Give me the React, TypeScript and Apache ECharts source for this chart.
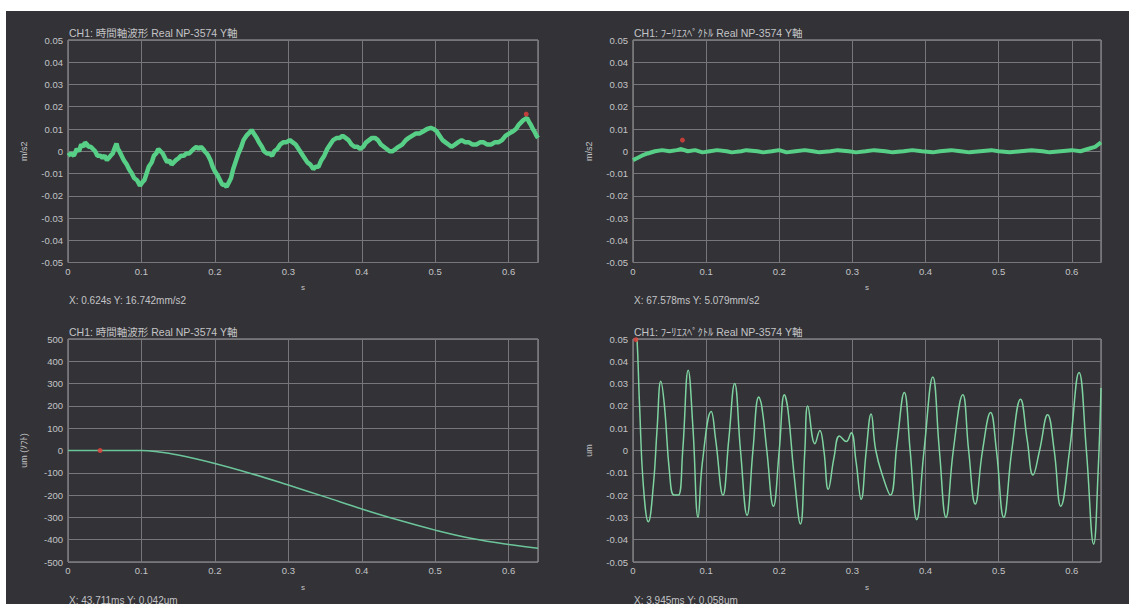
import React, { useEffect, useRef } from "react";
import * as echarts from "echarts";

// ---- data ----
const accelWave: [number, number][] = [
  [0, -0.002], [0.004, -0.001], [0.008, -0.002], [0.012, 0.001], [0.015, 0.0], [0.018, 0.003],
  [0.021, 0.002], [0.023, 0.004], [0.026, 0.003], [0.028, 0.002], [0.031, 0.002], [0.034, 0.001],
  [0.037, 0.0], [0.04, -0.002], [0.044, -0.002], [0.047, -0.003], [0.05, -0.002], [0.053, -0.004],
  [0.058, -0.002], [0.061, -0.001], [0.063, 0.001], [0.066, 0.0035], [0.068, 0.001], [0.07, 0.0],
  [0.073, -0.002], [0.076, -0.004], [0.08, -0.006], [0.083, -0.008], [0.087, -0.01], [0.09, -0.012],
  [0.094, -0.013], [0.098, -0.0155], [0.101, -0.014], [0.104, -0.013], [0.107, -0.01], [0.11, -0.007],
  [0.114, -0.005], [0.117, -0.002], [0.12, -0.001], [0.123, 0.001], [0.126, 0.0], [0.129, -0.001],
  [0.132, -0.003], [0.135, -0.005], [0.138, -0.004], [0.141, -0.006], [0.144, -0.005], [0.147, -0.004],
  [0.151, -0.003], [0.154, -0.002], [0.158, -0.002], [0.161, -0.001], [0.165, -0.001], [0.168, 0.0],
  [0.171, 0.001], [0.175, 0.002], [0.178, 0.001], [0.181, 0.002], [0.184, 0.001], [0.186, 0.0],
  [0.189, -0.001], [0.191, -0.002], [0.194, -0.004], [0.197, -0.007], [0.2, -0.009], [0.204, -0.011],
  [0.207, -0.013], [0.21, -0.015], [0.213, -0.015], [0.216, -0.016], [0.219, -0.014], [0.222, -0.012],
  [0.225, -0.008], [0.229, -0.004], [0.232, -0.001], [0.236, 0.002], [0.239, 0.005], [0.243, 0.007],
  [0.246, 0.008], [0.25, 0.0095], [0.253, 0.008], [0.257, 0.006], [0.26, 0.004], [0.264, 0.002],
  [0.267, 0.0], [0.271, -0.001], [0.274, -0.001], [0.278, -0.002], [0.281, 0.0], [0.285, 0.001],
  [0.289, 0.003], [0.293, 0.004], [0.297, 0.004], [0.302, 0.005], [0.306, 0.004], [0.31, 0.003],
  [0.314, 0.001], [0.318, -0.001], [0.322, -0.003], [0.326, -0.005], [0.33, -0.006], [0.334, -0.008],
  [0.337, -0.007], [0.341, -0.007], [0.345, -0.004], [0.349, -0.002], [0.353, 0.001], [0.357, 0.003],
  [0.361, 0.005], [0.366, 0.006], [0.37, 0.006], [0.374, 0.007], [0.378, 0.006], [0.382, 0.005],
  [0.386, 0.003], [0.39, 0.002], [0.394, 0.002], [0.398, 0.001], [0.402, 0.002], [0.406, 0.004],
  [0.41, 0.005], [0.414, 0.006], [0.418, 0.006], [0.422, 0.005], [0.426, 0.003], [0.43, 0.002],
  [0.434, 0.001], [0.438, 0.0], [0.442, 0.0], [0.446, 0.001], [0.45, 0.002], [0.455, 0.003],
  [0.46, 0.005], [0.464, 0.006], [0.469, 0.007], [0.474, 0.008], [0.479, 0.008], [0.484, 0.009],
  [0.489, 0.01], [0.494, 0.0105], [0.498, 0.01], [0.502, 0.009], [0.506, 0.007], [0.51, 0.005],
  [0.514, 0.004], [0.518, 0.003], [0.522, 0.002], [0.527, 0.003], [0.531, 0.004], [0.536, 0.005],
  [0.541, 0.004], [0.546, 0.004], [0.551, 0.003], [0.556, 0.003], [0.561, 0.004], [0.566, 0.004],
  [0.571, 0.003], [0.576, 0.003], [0.581, 0.004], [0.586, 0.004], [0.591, 0.005], [0.596, 0.007],
  [0.601, 0.008], [0.606, 0.009], [0.61, 0.01], [0.614, 0.012], [0.617, 0.013], [0.62, 0.014],
  [0.625, 0.015], [0.628, 0.013], [0.63, 0.012], [0.633, 0.01], [0.635, 0.009], [0.638, 0.007],
  [0.64, 0.006],
];

const spectrumWave: [number, number][] = [
  [0, -0.004], [0.006, -0.003], [0.012, -0.002], [0.02, -0.001], [0.03, 0.0], [0.04, 0.0005],
  [0.05, 0.0], [0.06, 0.0005], [0.066, 0.001], [0.075, 0.0], [0.085, 0.0005], [0.095, -0.0005],
  [0.105, 0.0], [0.115, 0.0005], [0.128, 0.0], [0.135, -0.0005], [0.148, 0.0], [0.155, 0.0005],
  [0.17, 0.0], [0.178, -0.0005], [0.19, 0.0], [0.2, 0.0005], [0.21, -0.0005], [0.222, 0.0],
  [0.235, 0.0005], [0.246, 0.0], [0.255, -0.0005], [0.27, 0.0], [0.28, 0.0005], [0.295, 0.0],
  [0.305, -0.0005], [0.318, 0.0], [0.33, 0.0005], [0.345, 0.0], [0.355, -0.0005], [0.37, 0.0],
  [0.382, 0.0005], [0.395, 0.0], [0.41, -0.0005], [0.42, 0.0], [0.435, 0.0005], [0.448, 0.0],
  [0.46, -0.0005], [0.475, 0.0], [0.49, 0.0005], [0.5, 0.0], [0.515, -0.0005], [0.53, 0.0],
  [0.545, 0.0005], [0.56, 0.0], [0.57, -0.0005], [0.585, 0.0], [0.6, 0.0005], [0.612, 0.0],
  [0.622, 0.001], [0.632, 0.002], [0.64, 0.004],
];

const displacementWave: [number, number][] = [
  [0, 0], [0.05, 0], [0.1, 0], [0.12, -5], [0.15, -20], [0.2, -58], [0.25, -104], [0.3, -155],
  [0.35, -208], [0.4, -262], [0.45, -312], [0.5, -357], [0.55, -395], [0.6, -422], [0.64, -438],
];

const spectrumDispWave: [number, number][] = [
  [0, 0.062], [0.004, 0.058], [0.009, 0.02], [0.014, -0.015], [0.021, -0.032], [0.028, -0.015],
  [0.033, 0.01], [0.038, 0.031], [0.043, 0.02], [0.05, -0.01], [0.056, -0.02], [0.062, -0.02],
  [0.068, 0.0], [0.0755, 0.036], [0.082, 0.01], [0.089, -0.03], [0.095, -0.005], [0.107, 0.0175],
  [0.113, 0.005], [0.123, -0.02], [0.131, 0.005], [0.139, 0.03], [0.147, 0.0], [0.156, -0.029],
  [0.164, 0.0], [0.172, 0.024], [0.176, 0.02], [0.183, 0.0], [0.192, -0.025], [0.2, 0.0],
  [0.207, 0.025], [0.212, 0.018], [0.22, -0.01], [0.229, -0.033], [0.235, 0.0], [0.239, 0.02],
  [0.2488, 0.003], [0.2555, 0.009], [0.261, 0.0], [0.267, -0.0174], [0.275, -0.003], [0.2824, 0.0065],
  [0.2915, 0.004], [0.2983, 0.008], [0.305, -0.005], [0.312, -0.0219], [0.319, 0.0], [0.3256, 0.0164],
  [0.332, 0.0], [0.342, -0.012], [0.352, -0.02], [0.361, 0.003], [0.371, 0.026], [0.379, 0.0],
  [0.388, -0.031], [0.398, 0.0], [0.41, 0.033], [0.419, 0.0], [0.428, -0.03], [0.438, 0.0],
  [0.451, 0.025], [0.459, 0.0], [0.468, -0.024], [0.478, 0.0], [0.489, 0.017], [0.497, 0.0],
  [0.507, -0.03], [0.518, 0.0], [0.53, 0.023], [0.539, 0.005], [0.547, -0.011], [0.556, 0.0],
  [0.567, 0.016], [0.576, 0.0], [0.585, -0.025], [0.597, 0.0], [0.61, 0.035], [0.62, 0.0],
  [0.63, -0.042], [0.636, -0.01], [0.64, 0.028],
];

const cursorTopLeft: [number, number][] = [[0.624, 0.0167]];
const cursorTopRight: [number, number][] = [[0.0676, 0.005]];
const cursorBottomLeft: [number, number][] = [[0.0437, 0.0]];
const cursorBottomRight: [number, number][] = [[0.0039, 0.0497]];

const panelTitles = [
  "CH1: 時間軸波形 Real NP-3574 Y軸",
  "CH1: ﾌｰﾘｴｽﾍﾟｸﾄﾙ Real NP-3574 Y軸",
  "CH1: 時間軸波形 Real NP-3574 Y軸",
  "CH1: ﾌｰﾘｴｽﾍﾟｸﾄﾙ Real NP-3574 Y軸",
];
const cursorTexts = [
  "X: 0.624s Y: 16.742mm/s2",
  "X: 67.578ms Y: 5.079mm/s2",
  "X: 43.711ms Y: 0.042um",
  "X: 3.945ms Y: 0.058um",
];
const yNames = ["m/s2", "m/s2", "um (ｿﾌﾄ)", "um"];
const xName = "s";

const FONT = "'Liberation Sans', 'Noto Sans CJK JP', sans-serif";
const TEXT = "#c4c4c6";
const GRIDLINE = "#76767b";
const BORDER = "#a4a4a6";

export default function App() {
  const ref = useRef<HTMLDivElement>(null);

  useEffect(() => {
    document.body.style.margin = "0";
    if (!ref.current) return;
    const chart = echarts.init(ref.current, null, { renderer: "svg" });

    const grids = [
      { left: 68, top: 40, width: 470, height: 222.5 },
      { left: 633, top: 40, width: 468, height: 222.5 },
      { left: 68, top: 339, width: 470, height: 223 },
      { left: 633, top: 339, width: 468, height: 223 },
    ];

    const xFmt = (v: number) => {
      const r = Math.round(v * 10);
      if (Math.abs(v * 10 - r) > 1e-6) return "";
      return r === 0 ? "0" : (r / 10).toFixed(1);
    };
    const yFmtSmall = (v: number) => {
      if (Math.abs(v) < 1e-9) return "0";
      return v.toFixed(2);
    };
    const yFmtBig = (v: number) => String(Math.round(v));

    const xAxis = grids.map((_, i) => ({
      gridIndex: i,
      type: "value",
      min: 0,
      max: 0.64,
      interval: 0.1,
      name: xName,
      nameLocation: "middle",
      nameGap: 21,
      nameTextStyle: { color: TEXT, fontSize: 8, fontFamily: FONT },
      axisLine: { show: false },
      axisTick: { show: false },
      axisLabel: { color: TEXT, fontSize: 9.5, margin: 4, fontFamily: FONT, formatter: xFmt },
      splitLine: { show: true, lineStyle: { color: GRIDLINE, width: 1 } },
    }));

    const yAxis = grids.map((_, i) => {
      const big = i === 2;
      return {
        gridIndex: i,
        type: "value",
        min: big ? -500 : -0.05,
        max: big ? 500 : 0.05,
        interval: big ? 100 : 0.01,
        name: yNames[i],
        nameLocation: "middle",
        nameGap: 40,
        nameTextStyle: { color: TEXT, fontSize: 9, fontFamily: FONT },
        axisLine: { show: false },
        axisTick: { show: false },
        axisLabel: {
          color: TEXT,
          fontSize: 9.5,
          margin: 5,
          fontFamily: FONT,
          formatter: big ? yFmtBig : yFmtSmall,
        },
        splitLine: { show: true, lineStyle: { color: GRIDLINE, width: 1 } },
      };
    });

    const lineSeries = (idx: number, data: [number, number][], color: string, width: number, smooth: number | boolean) => ({
      type: "line",
      xAxisIndex: idx,
      yAxisIndex: idx,
      data,
      showSymbol: false,
      smooth,
      clip: true,
      lineStyle: { color, width },
      z: 3,
    });
    const cursorSeries = (idx: number, data: [number, number][]) => ({
      type: "scatter",
      xAxisIndex: idx,
      yAxisIndex: idx,
      data,
      symbolSize: 5,
      itemStyle: { color: "#e5403a" },
      z: 5,
    });

    const graphic: any[] = [];
    grids.forEach((g, i) => {
      graphic.push({
        type: "text",
        left: g.left + 1,
        top: g.top - 12,
        style: { text: panelTitles[i], fill: TEXT, fontSize: 10.5, fontFamily: FONT },
      });
      graphic.push({
        type: "text",
        left: g.left + 1,
        top: g.top + g.height + 33,
        style: { text: cursorTexts[i], fill: TEXT, fontSize: 10, fontFamily: FONT },
      });
    });

    chart.setOption({
      animation: false,
      backgroundColor: "transparent",
      grid: grids.map((g) => ({ ...g, show: true, borderColor: BORDER, borderWidth: 1, backgroundColor: "transparent" })),
      xAxis,
      yAxis,
      series: [
        lineSeries(0, accelWave, "#58cf86", 4.5, false),
        lineSeries(1, spectrumWave, "#58cf86", 4, false),
        lineSeries(2, displacementWave, "#6cc59a", 1.5, 0.4),
        lineSeries(3, spectrumDispWave, "#7fd3a0", 1.5, 0.45),
        cursorSeries(0, cursorTopLeft),
        cursorSeries(1, cursorTopRight),
        cursorSeries(2, cursorBottomLeft),
        cursorSeries(3, cursorBottomRight),
      ],
      graphic,
    });

    return () => chart.dispose();
  }, []);

  return (
    <div style={{ position: "relative", width: 1129, height: 604, background: "#ffffff", overflow: "hidden" }}>
      <div style={{ position: "absolute", left: 6, top: 11, right: 0, bottom: 0, background: "#323237" }} />
      <div ref={ref} style={{ position: "absolute", left: 0, top: 0, width: 1129, height: 604 }} />
    </div>
  );
}
